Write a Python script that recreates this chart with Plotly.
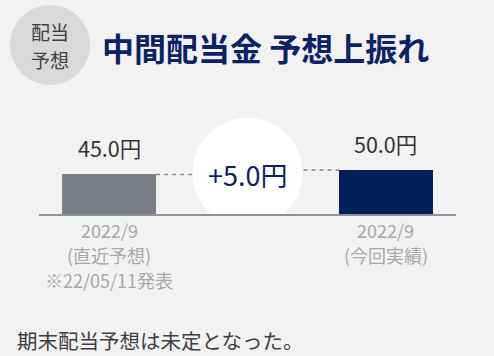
import plotly.graph_objects as go

# ---- data ----
categories = ["直近予想", "今回実績"]
values = [45.0, 50.0]
period_labels = ["2022/9", "2022/9"]
sub_labels = ["(直近予想)", "(今回実績)"]
note_labels = ["※22/05/11発表", ""]
bar_colors = ["#7a7e86", "#00205b"]
unit = "円"
title_text = "中間配当金 予想上振れ"
badge_lines = ["配当", "予想"]
footer_text = "期末配当予想は未定となった。"

W, H = 494, 356
FONT = "Noto Sans CJK JP, Noto Sans, sans-serif"
NAVY = "#0b2366"

diff = values[1] - values[0]

fig = go.Figure()
fig.add_trace(go.Bar(
    x=categories, y=values, width=0.34,
    marker=dict(color=bar_colors, line=dict(width=0)),
    hoverinfo="skip", showlegend=False,
))

annotations = []
shapes = []

# dashed connector lines at each bar top, toward the centre
dash_style = dict(color="#84878d", width=1.5, dash="4px,4px")
shapes.append(dict(type="line", xref="x", yref="y", x0=0 + 0.17, x1=0.5,
                   y0=values[0], y1=values[0], line=dash_style, layer="below"))
shapes.append(dict(type="line", xref="x", yref="y", x0=0.5, x1=1 - 0.17,
                   y0=values[1], y1=values[1], line=dash_style, layer="below"))
# white circle with difference
cy = (values[0] + values[1]) / 2 - 0.9
shapes.append(dict(type="circle", xref="x", yref="y", xsizemode="pixel", ysizemode="pixel",
                   xanchor=0.5, yanchor=cy, x0=-55, x1=55, y0=-55, y1=55,
                   fillcolor="#ffffff", line=dict(width=0), layer="above"))
annotations.append(dict(x=0.5, y=cy, xref="x", yref="y", text=f"+{diff:.1f}{unit}",
                        showarrow=False, font=dict(family=FONT, size=27, color=NAVY),
                        xanchor="center", yanchor="middle", yshift=-2))

# value labels
for c, v in zip(categories, values):
    annotations.append(dict(x=c, y=v, xref="x", yref="y", text=f"{v:.1f}{unit}",
                            showarrow=False, font=dict(family=FONT, size=21.5, color="#333333"),
                            xanchor="center", yanchor="middle", yshift=27))

# category labels (multi-line)
for c, p, s, n in zip(categories, period_labels, sub_labels, note_labels):
    for txt, sh in ((p, -16), (s, -41), (n, -66)):
        if txt:
            annotations.append(dict(x=c, y=0, xref="x", yref="y", text=txt, showarrow=False,
                                    font=dict(family=FONT, size=18, color="#a8a8a8"),
                                    xanchor="center", yanchor="middle", yshift=sh))

# header badge
shapes.append(dict(type="circle", xref="paper", yref="paper",
                   x0=10 / W, x1=90 / W, y0=1 - 85 / H, y1=1 - 5 / H,
                   fillcolor="#d9d9d9", line=dict(width=0), layer="below"))
for txt, ypx in zip(badge_lines, (31, 59)):
    annotations.append(dict(x=50 / W, y=1 - ypx / H, xref="paper", yref="paper", text=txt,
                            showarrow=False, font=dict(family=FONT, size=19, color="#404040"),
                            xanchor="center", yanchor="middle"))
annotations.append(dict(x=100 / W, y=1 - 47 / H, xref="paper", yref="paper",
                        text=f"<b>{title_text}</b>", showarrow=False,
                        font=dict(family=FONT, size=32, color=NAVY),
                        xanchor="left", yanchor="middle"))
# footer
annotations.append(dict(x=15 / W, y=1 - 340 / H, xref="paper", yref="paper", text=footer_text,
                        showarrow=False, font=dict(family=FONT, size=20.5, color="#404040"),
                        xanchor="left", yanchor="middle"))

base_px = 214
ymax = base_px / 0.88
fig.update_layout(
    width=W, height=H, margin=dict(l=0, r=0, t=0, b=0),
    paper_bgcolor="#f2f2f2", plot_bgcolor="rgba(0,0,0,0)",
    xaxis=dict(type="category", range=[-0.253, 1.253], domain=[39 / W, 456 / W],
               showticklabels=False, showgrid=False, zeroline=False, ticks="",
               showline=True, linecolor="#8e929a", linewidth=1.5, fixedrange=True),
    yaxis=dict(range=[0, ymax], domain=[(H - base_px) / H, 1],
               showticklabels=False, showgrid=False, zeroline=False, showline=False,
               fixedrange=True),
    shapes=shapes, annotations=annotations, bargap=0,
)

fig.write_html("out.html", config={"displayModeBar": False},
               post_script="document.body.style.margin='0';document.body.style.padding='0';")
